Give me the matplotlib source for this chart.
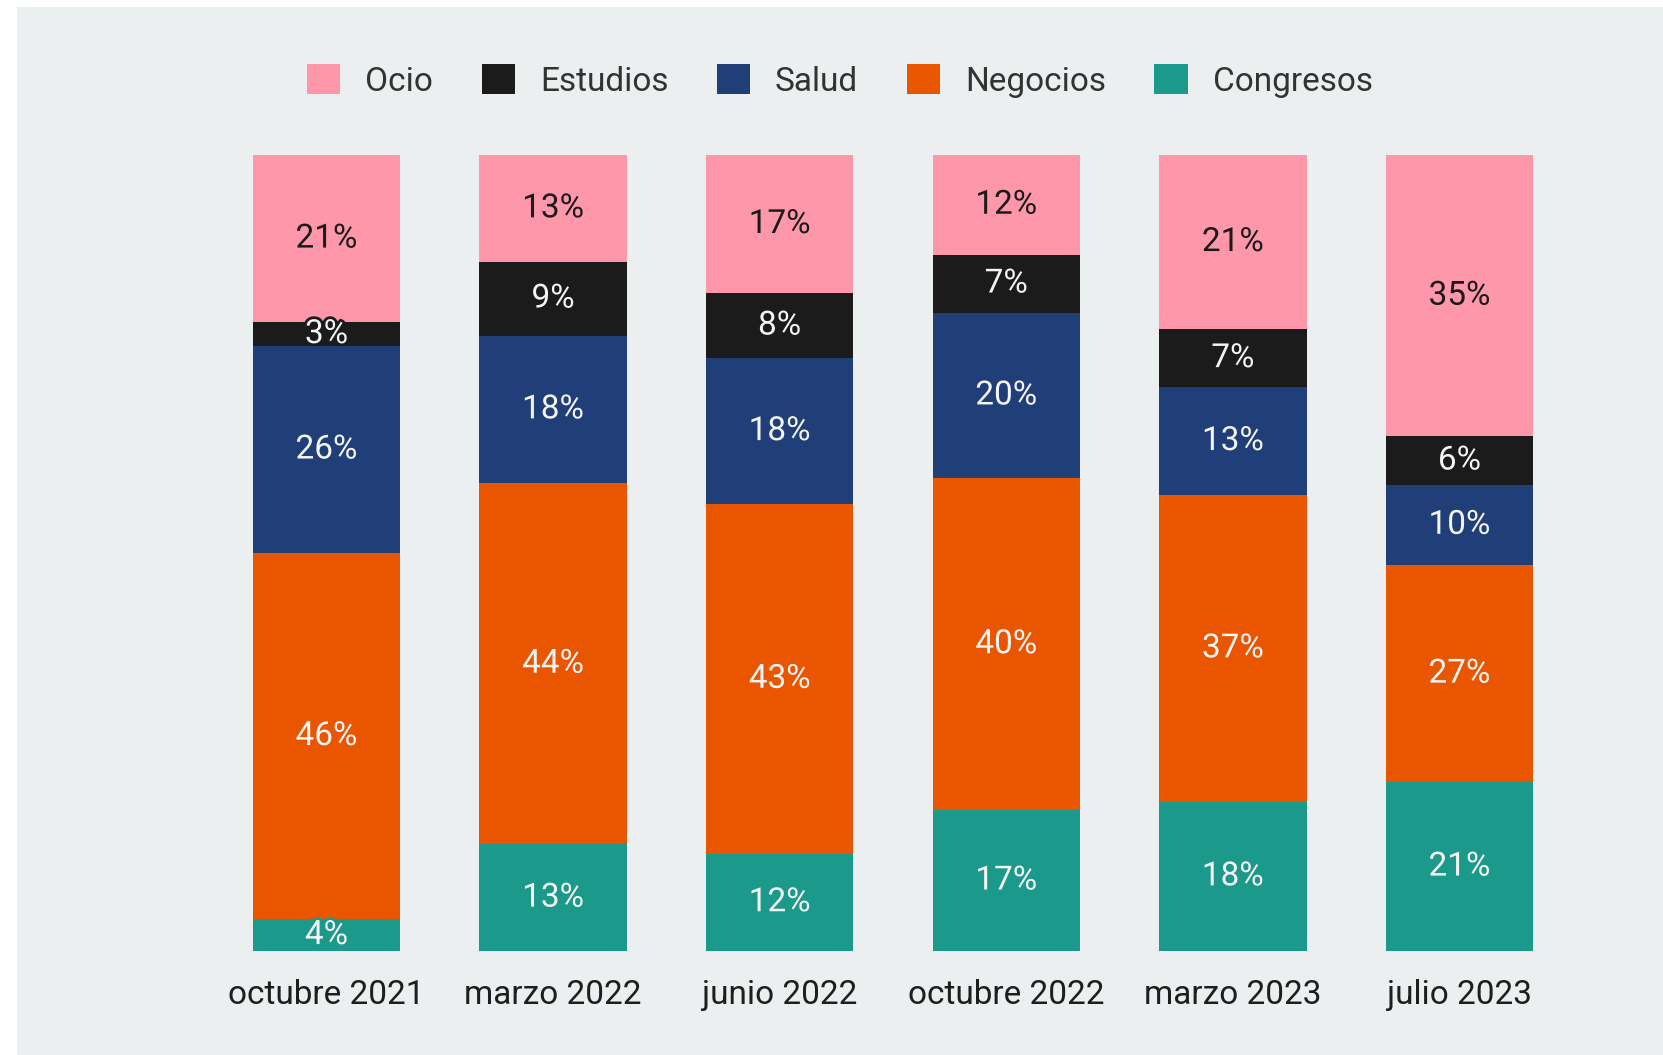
import numpy as np
import matplotlib
matplotlib.use('Agg')
import matplotlib.pyplot as plt
import matplotlib.patheffects as pe
from matplotlib.patches import Patch, Rectangle

plt.rcParams['font.family'] = ['Roboto', 'DejaVu Sans']

# datos (porcentajes mostrados)
periodos = ['octubre 2021', 'marzo 2022', 'junio 2022', 'octubre 2022', 'marzo 2023', 'julio 2023']
categorias = ['Ocio', 'Estudios', 'Salud', 'Negocios', 'Congresos']
ocio = [21, 13, 17, 12, 21, 35]
estudios = [3, 9, 8, 7, 7, 6]
salud = [26, 18, 18, 20, 13, 10]
negocios = [46, 44, 43, 40, 37, 27]
congresos = [4, 13, 12, 17, 18, 21]

colores = ['#FF97AB', '#1B1B1B', '#203E77', '#EA5500', '#1B998B']
texto_col = ['#1a1a1a', '#f5f5f5', '#f5f5f5', '#f5f5f5', '#f5f5f5']

W, H = 1663, 1055
fig = plt.figure(figsize=(W / 100, H / 100), dpi=100, facecolor='white')
fig.patches.append(Rectangle((17 / W, 0), 1 - 17 / W, 1 - 7 / H,
                             transform=fig.transFigure, facecolor='#ECEFF0',
                             edgecolor='none', zorder=-10))

ax = fig.add_axes([213.2 / W, 104 / H, 1359.6 / W, 796 / H])
ax.set_facecolor('none')

# apilado de abajo hacia arriba: Congresos, Negocios, Salud, Estudios, Ocio
series = [ocio, estudios, salud, negocios, congresos]
datos = np.array(series, dtype=float)
totales = datos.sum(axis=0)
frac = datos / totales

x = np.arange(len(periodos))
ancho = 0.65
base = np.zeros(len(periodos))
for i in [4, 3, 2, 1, 0]:
    ax.bar(x, frac[i], ancho, bottom=base, color=colores[i], linewidth=0)
    for j in range(len(periodos)):
        ax.text(x[j], base[j] + frac[i][j] / 2, f'{series[i][j]}%',
                ha='center', va='center', fontsize=24, color=texto_col[i],
                path_effects=[pe.withStroke(linewidth=4, foreground=colores[i])])
    base += frac[i]

ax.set_xlim(-0.5, len(periodos) - 0.5)
ax.set_ylim(0, 1)
ax.set_xticks(x)
ax.set_xticklabels(periodos, fontsize=24, color='#1e1e1e')
ax.tick_params(axis='x', length=0, pad=20)
ax.set_yticks([])
for s in ax.spines.values():
    s.set_visible(False)

handles = [Patch(facecolor=c, edgecolor='none') for c in colores]
fig.legend(handles, categorias, loc='center', bbox_to_anchor=(0.505, 1 - 81 / H),
           ncol=5, frameon=False, fontsize=24, labelcolor='#333333',
           handlelength=1.0, handleheight=1.0, handletextpad=0.75,
           columnspacing=1.45)

fig.savefig('out.png', dpi=100, facecolor='white')
